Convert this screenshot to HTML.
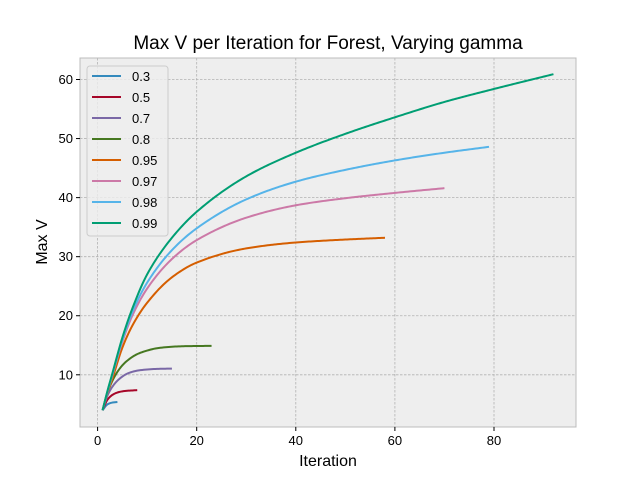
<!DOCTYPE html>
<html><head><meta charset="utf-8"><style>
body{margin:0;background:#fff}
svg{font-family:"Liberation Sans","DejaVu Sans",sans-serif}
</style></head><body>
<svg id="chart" width="640" height="480" xmlns="http://www.w3.org/2000/svg">
<rect x="80" y="58" width="496" height="369" fill="#eeeeee"/>
<g id="grid"></g>
<g id="series"></g>
<rect x="80" y="58" width="496" height="369" fill="none" stroke="#bcbcbc" stroke-width="1"/>
<g id="ticks"></g>
<text x="328" y="49" font-size="19" text-anchor="middle" fill="#000">Max V per Iteration for Forest, Varying gamma</text>
<text x="328" y="466" font-size="16" text-anchor="middle">Iteration</text>
<text x="0" y="0" font-size="16" text-anchor="middle" transform="translate(47,242) rotate(-90)">Max V</text>
<g id="legend"></g>
</svg>
<script>
const gammas=["0.3","0.5","0.7","0.8","0.95","0.97","0.98","0.99"];
const colors=["#348ABD","#A60628","#7A68A6","#467821","#D55E00","#CC79A7","#56B4E9","#009E73"];
const xs0_3=[1,2,3,4], ys0_3=[4,5.0,5.3,5.4];
const xs0_5=[1,2,3,4,5,6,7,8], ys0_5=[4,5.8,6.6,7.0,7.2,7.3,7.35,7.4];
const xs0_7=[1,2,3,4,5,6,8,10,12,15], ys0_7=[4,6.5,8.0,9.0,9.7,10.2,10.7,10.9,11.0,11.05];
const xs0_8=[1,2,3,4,5,6,8,10,12,15,18,23], ys0_8=[4,7,9,10.5,11.6,12.4,13.5,14.1,14.5,14.75,14.85,14.9];
const xs0_95=[1,2,3,5,7,10,15,20,30,40,50,58], ys0_95=[4,7,9.4,14.6,18.3,22.2,26.5,29.0,31.4,32.4,32.9,33.2];
const xs0_97=[1,2,3,5,7,10,15,20,30,40,50,60,70], ys0_97=[4,7.1,10,15.6,20,24.6,29.6,32.8,36.6,38.7,39.9,40.8,41.6];
const xs0_98=[1,2,3,5,7,10,15,20,30,40,50,60,70,79], ys0_98=[4,7.2,10.1,15.9,20.6,25.6,31.1,34.8,39.7,42.7,44.7,46.3,47.6,48.6];
const xs0_99=[1,2,3,5,7,10,15,20,30,40,50,60,70,80,92], ys0_99=[4,7.3,10.3,16.3,21.2,27,33.2,37.6,43.6,47.6,50.8,53.6,56.2,58.4,60.9];
const xTicks=[0,20,40,60,80], yTicks=[10,20,30,40,50,60];
const seriesX=[xs0_3,xs0_5,xs0_7,xs0_8,xs0_95,xs0_97,xs0_98,xs0_99];
const seriesY=[ys0_3,ys0_5,ys0_7,ys0_8,ys0_95,ys0_97,ys0_98,ys0_99];
const NS="http://www.w3.org/2000/svg";
const L=80,R=576,T=58,B=427, xmin=-3.55,xmax=96.55,ymin=1.16,ymax=63.64;
const sx=v=>L+(v-xmin)/(xmax-xmin)*(R-L);
const sy=v=>B-(v-ymin)/(ymax-ymin)*(B-T);
function mk(tag,at,parent){const e=document.createElementNS(NS,tag);for(const k in at)e.setAttribute(k,at[k]);parent.appendChild(e);return e;}
const grid=document.getElementById('grid'),ticks=document.getElementById('ticks');
xTicks.forEach(t=>{const x=sx(t);
 const g=mk('line',{x1:x,x2:x,y1:T,y2:B,stroke:'#b2b2b2','stroke-width':0.8,'stroke-dasharray':'2.5,1.5'},grid);
 
 const tk=mk('line',{x1:x,x2:x,y1:B,y2:B+4,stroke:'#000'},ticks);
 
 const tx=mk('text',{x:x,y:B+18,'font-size':13,'text-anchor':'middle'},ticks);tx.textContent=t;
 });
yTicks.forEach(t=>{const y=sy(t);
 const g=mk('line',{x1:L,x2:R,y1:y,y2:y,stroke:'#b2b2b2','stroke-width':0.8,'stroke-dasharray':'2.5,1.5'},grid);
 
 const tk=mk('line',{x1:L-4,x2:L,y1:y,y2:y,stroke:'#000'},ticks);
 
 const tx=mk('text',{x:L-7,y:y+4.5,'font-size':13,'text-anchor':'end'},ticks);tx.textContent=t;
 });
function monotone(xs,ys){const n=xs.length,d=[],m=new Array(n);
 for(let i=0;i<n-1;i++)d.push((ys[i+1]-ys[i])/(xs[i+1]-xs[i]));
 m[0]=d[0];m[n-1]=d[n-2];
 for(let i=1;i<n-1;i++){if(d[i-1]*d[i]<=0)m[i]=0;else{const h0=xs[i]-xs[i-1],h1=xs[i+1]-xs[i];
  const w1=2*h1+h0,w2=h1+2*h0;m[i]=(w1+w2)/(w1/d[i-1]+w2/d[i]);}}
 const pts=[];
 for(let i=0;i<n-1;i++){const h=xs[i+1]-xs[i];const steps=Math.max(4,Math.ceil(h*3));
  for(let s=0;s<steps;s++){const t=s/steps,t2=t*t,t3=t2*t;
   const y=(2*t3-3*t2+1)*ys[i]+(t3-2*t2+t)*h*m[i]+(-2*t3+3*t2)*ys[i+1]+(t3-t2)*h*m[i+1];
   pts.push([xs[i]+t*h,y]);}}
 pts.push([xs[n-1],ys[n-1]]);return pts;}
const sg=document.getElementById('series');
seriesX.forEach((xs,i)=>{const pts=monotone(xs,seriesY[i]);
 const d=pts.map((p,j)=>(j?'L':'M')+sx(p[0]).toFixed(2)+','+sy(p[1]).toFixed(2)).join(' ');
 const p=mk('path',{d:d,fill:'none',stroke:colors[i],'stroke-width':2,'stroke-linejoin':'round'},sg);
 });
const lg=document.getElementById('legend');
const box=mk('rect',{x:87,y:66,width:81,height:170,rx:3,fill:'#eeeeee','fill-opacity':0.8,stroke:'#cccccc'},lg);

gammas.forEach((g,i)=>{const y=76+i*21;
 const ln=mk('line',{x1:92,x2:121,y1:y,y2:y,stroke:colors[i],'stroke-width':2},lg);
 
 const t=mk('text',{x:132,y:y+5,'font-size':13},lg);t.textContent=g;
 });
</script>
</body></html>
